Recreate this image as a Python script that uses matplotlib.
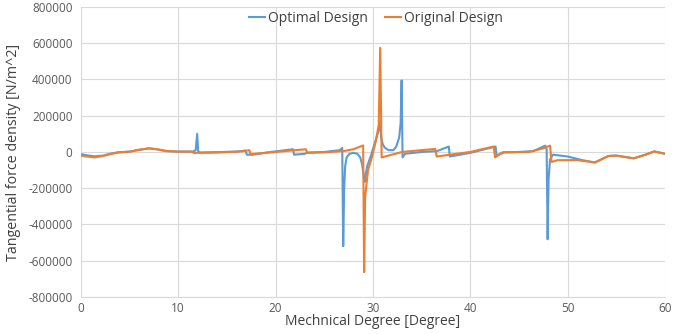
import matplotlib
matplotlib.use("Agg")
import matplotlib.pyplot as plt
from matplotlib.ticker import FuncFormatter

opt_x = [0, 0.6, 1.4, 2.3, 3.0, 3.8, 5.0, 6.0, 7.0, 7.8, 8.8, 10.0, 11.5, 11.8, 11.95, 12.05, 12.2,
         14.0, 16.0, 16.9, 17.05, 17.7, 19.5, 21.8, 21.9, 23.0, 23.3, 25.0, 26.6, 26.85, 26.95, 27.05,
         27.15, 27.3, 27.6, 28.0, 28.4, 28.7, 28.9, 29.05, 29.15, 29.4, 29.8, 30.2, 30.6, 30.75,
         30.85, 31.0, 31.2, 31.6, 32.1, 32.4, 32.7, 32.85, 32.95, 33.05, 33.3, 35, 36.6, 37.8, 37.9,
         40, 42.6, 42.7, 43.5, 45, 46.5, 47.7, 47.85, 47.95, 48.05, 48.2, 48.5, 50, 51.5, 52.8,
         53.5, 54.2, 55, 56.8, 58, 58.9, 60]
opt_y = [-12000, -18000, -24000, -20000, -10000, -2000, 2000, 12000, 20000, 15000, 5000, 2000, 2000,
         10000, 100000, 5000, -3000, -1000, 2000, 8000, -15000, -15000, 0, 15000, -15000, -10000,
         -3000, 0, 10000, 22000, -520000, -200000, -80000, -30000, -10000, -5000, -10000, -30000,
         -70000, -130000, -165000, -80000, -20000, 50000, 120000, 170000, 80000, 45000, 25000,
         10000, 10000, 30000, 80000, 160000, 395000, -30000, -10000, 0, 5000, 30000, -25000, -5000,
         30000, -20000, -2000, 0, 5000, 35000, 15000, -482000, -150000, -40000, -15000, -25000,
         -45000, -58000, -40000, -22000, -20000, -35000, -15000, 3000, -10000]

orig_x = [0, 0.6, 1.4, 2.3, 3.0, 3.8, 5.0, 6.0, 7.0, 7.8, 8.8, 10, 11.4, 11.6, 14, 16.5, 17.3, 17.45,
          20, 23.1, 23.25, 25, 27.0, 28.0, 29.0, 29.1, 29.2, 29.5, 29.9, 30.3, 30.6, 30.75, 30.9, 33,
          36.4, 36.55, 40, 42.4, 42.55, 43.3, 46, 47.5, 48.2, 48.35, 49, 51, 52.8, 53.5, 54.2, 55,
          56.8, 58, 58.9, 60]
orig_y = [-20000, -25000, -30000, -22000, -12000, -3000, 2000, 12000, 20000, 15000, 5000, 2000, 2000,
          -5000, -3000, 3000, 10000, -12000, 0, 15000, -5000, -2000, 5000, 15000, 36000, -663000,
          -250000, -100000, -30000, 60000, 150000, 575000, -30000, 0, 17000, -25000, 0, 30000,
          -30000, -2000, 0, 20000, 35000, -55000, -45000, -45000, -58000, -40000, -22000, -20000,
          -35000, -15000, 3000, -10000]

x_ticks = [0, 10, 20, 30, 40, 50, 60]
y_ticks = [-800000, -600000, -400000, -200000, 0, 200000, 400000, 600000, 800000]

plt.rcParams['font.family'] = ['Open Sans', 'DejaVu Sans']

fig = plt.figure(figsize=(6.97, 3.34), dpi=100)
ax = fig.add_axes([0.116, 0.111, 0.838, 0.868])

ax.plot(opt_x, opt_y, color='#5B9BD5', lw=1.5, label='Optimal Design')
ax.plot(orig_x, orig_y, color='#ED7D31', lw=1.5, label='Original Design')

ax.set_xlim(0, 60)
ax.set_ylim(-800000, 800000)
ax.set_xticks(x_ticks)
ax.set_yticks(y_ticks)
ax.yaxis.set_major_formatter(FuncFormatter(lambda v, p: f"{int(v)}"))
ax.grid(True, color='#D9D9D9', lw=0.8)
ax.set_axisbelow(True)
for s in ['top', 'right', 'left']:
    ax.spines[s].set_visible(False)
ax.spines['bottom'].set_color('#D9D9D9')
ax.tick_params(axis='y', length=0, labelsize=8.5, colors='#595959', pad=6)
ax.tick_params(axis='x', length=0, labelsize=8.5, colors='#595959', pad=4)

ax.set_xlabel('Mechnical Degree [Degree]', fontsize=10, color='#404040')
ax.xaxis.set_label_coords(0.5, -0.06)
ax.set_ylabel('Tangential force density [N/m^2]', fontsize=10.3, color='#404040', labelpad=5)

leg = ax.legend(loc='upper center', bbox_to_anchor=(0.505, 1.03), ncol=2, frameon=False,
                fontsize=10, handlelength=1.2, handletextpad=0.2, columnspacing=1.2)
for t in leg.get_texts():
    t.set_color('#404040')

fig.savefig('out.png', dpi=100)
